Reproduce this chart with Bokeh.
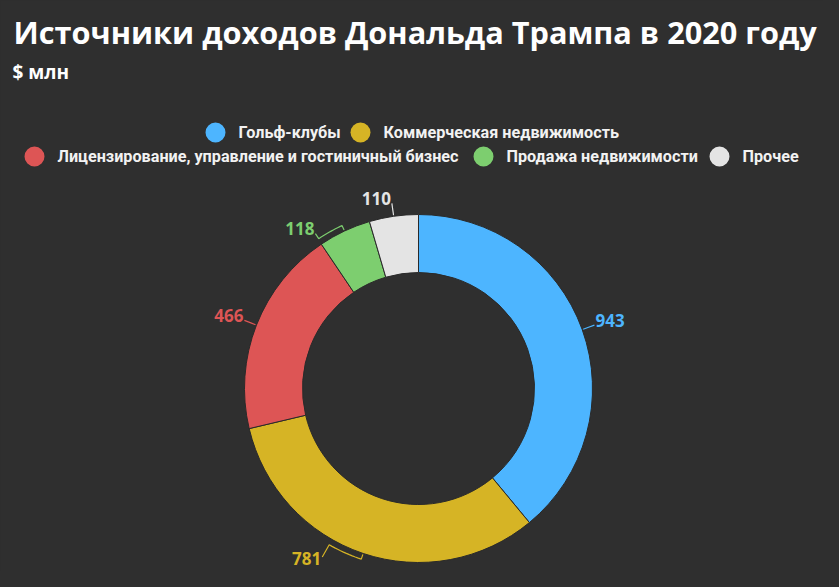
import numpy as np
from bokeh.plotting import figure
from bokeh.models import Range1d, ColumnDataSource
from bokeh.core.properties import value
from bokeh.embed import file_html
from bokeh.resources import INLINE

# ---- data ----
categories = ["Гольф-клубы", "Коммерческая недвижимость",
              "Лицензирование, управление и гостиничный бизнес",
              "Продажа недвижимости", "Прочее"]
values = [943, 781, 466, 118, 110]
colors = ["#4db5ff", "#d6b425", "#dd5555", "#7dce6f", "#e4e4e4"]
title_text = "Источники доходов Дональда Трампа в 2020 году"
subtitle_text = "$ млн"

# ---- layout ----
BG = "#2f2f2f"
W, H = 823, 571
CX, CY = 418, -388          # page coords, y negated
R_OUT, R_IN = 174, 116
label_shift_deg = [0, 11.2, 0, -8.5, 0]   # label displacement (clockwise, degrees)
tick_len = [13, 20, 13, 12, 13]
legend_rows = [[0, 1], [2, 3, 4]]
legend_row_y = [-132, -156]
legend_row_x0 = [215, 34]
legend_gaps = [[0, 145], [0, 449, 236]]

p = figure(width=W, height=H, output_backend="svg", toolbar_location=None,
           x_range=Range1d(0, W), y_range=Range1d(-H, 0),
           min_border=0, background_fill_color=BG, border_fill_color=BG)
p.axis.visible = False
p.grid.visible = False
p.outline_line_color = None

vals = np.array(values, dtype=float)
total = vals.sum()
cum = np.concatenate([[0], np.cumsum(vals)])
start = np.pi / 2 - 2 * np.pi * cum[:-1] / total
end = np.pi / 2 - 2 * np.pi * cum[1:] / total
mid = (start + end) / 2

src = ColumnDataSource(dict(start=start, end=end, color=colors))
p.annular_wedge(x=CX, y=CY, inner_radius=R_IN, outer_radius=R_OUT,
                start_angle="start", end_angle="end", direction="clock",
                fill_color="color", line_color="#2a2a2a", line_width=1, source=src)

# ticks and labels
xs, ys = [], []
lx, ly, lt, la, lc = [], [], [], [], []
for i, v in enumerate(values):
    m = mid[i]
    a = m - np.deg2rad(label_shift_deg[i])
    pts = [(R_OUT + 1, m), (R_OUT + 6, m)]
    for t in np.linspace(m, a, 12):
        pts.append((R_OUT + 6, t))
    pts.append((R_OUT + tick_len[i], a))
    xs.append([CX + r * np.cos(t) for r, t in pts])
    ys.append([CY + r * np.sin(t) for r, t in pts])
    ex = CX + (R_OUT + tick_len[i]) * np.cos(a)
    ey = CY + (R_OUT + tick_len[i]) * np.sin(a)
    right = np.cos(a) > 0
    upper = np.sin(a) > 0
    lx.append(ex + (1 if right else -1))
    ly.append(ey + (5 if upper else -2))
    lt.append(str(v))
    la.append("left" if right else "right")
    lc.append(colors[i])
p.multi_line(xs=xs, ys=ys, line_color=colors, line_width=1.2)
p.text(x=lx, y=ly, text=lt, text_align=la, text_baseline="middle",
       text_color=lc, text_font=value("Open Sans"), text_font_size="17px",
       text_font_style="bold")

# title / subtitle
p.text(x=[13], y=[-31], text=[title_text], text_baseline="alphabetic",
       text_color="#ffffff", text_font=value("Open Sans"), text_font_size="30.7px",
       text_font_style="bold")
p.text(x=[12], y=[-71], text=[subtitle_text], text_baseline="alphabetic",
       text_color="#ffffff", text_font=value("Open Sans"), text_font_size="19px",
       text_font_style="bold")

# legend
cx_, cy_, tx_, ty_, tt_, cc_ = [], [], [], [], [], []
for row, y0, x0, gaps in zip(legend_rows, legend_row_y, legend_row_x0, legend_gaps):
    x = x0
    for idx, g in zip(row, gaps):
        x += g
        cx_.append(x); cy_.append(y0); cc_.append(colors[idx])
        tx_.append(x + 23); ty_.append(y0); tt_.append(categories[idx])
p.scatter(x=cx_, y=cy_, size=20, fill_color=cc_, line_color=None)
p.text(x=tx_, y=ty_, text=tt_, text_baseline="middle", text_color="#f2f2f2",
       text_font=value("Roboto"), text_font_size="16.2px", text_font_style="bold")

html = file_html(p, INLINE).replace("<body>", '<body style="background-color:#2f2f2f;">')
open("out.html", "w").write(html)
